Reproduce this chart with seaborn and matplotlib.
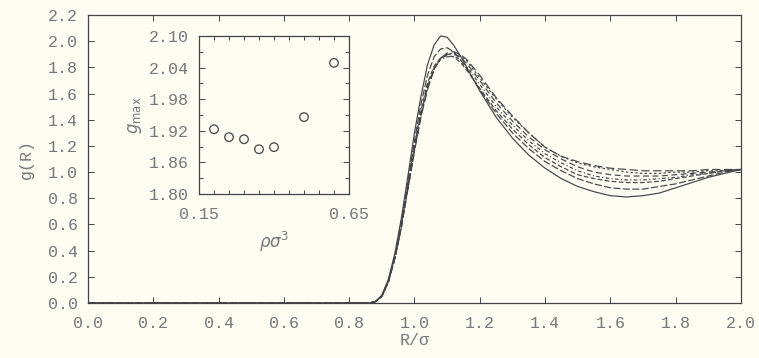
import numpy as np
import pandas as pd
import matplotlib
matplotlib.use("Agg")
import matplotlib.pyplot as plt
from matplotlib.ticker import MultipleLocator, FixedLocator
import seaborn as sns

# ---------------- data ----------------
r_grid = [0.00, 0.86, 0.88, 0.90, 0.92, 0.94, 0.96, 0.98, 1.00, 1.02, 1.04, 1.06,
          1.08, 1.10, 1.12, 1.14, 1.16, 1.20, 1.25, 1.30, 1.35, 1.40, 1.45, 1.50,
          1.55, 1.60, 1.65, 1.70, 1.75, 1.80, 1.85, 1.90, 1.95, 2.00]

g_060 = [0, 0, 0.01, 0.06, 0.18, 0.38, 0.65, 0.97, 1.30, 1.58, 1.82, 1.97, 2.04, 2.03,
         1.97, 1.89, 1.80, 1.62, 1.42, 1.26, 1.13, 1.03, 0.95, 0.89, 0.85, 0.82, 0.81,
         0.82, 0.84, 0.88, 0.92, 0.96, 0.99, 1.02]
g_050 = [0, 0, 0.01, 0.05, 0.17, 0.36, 0.62, 0.93, 1.24, 1.52, 1.74, 1.88, 1.94, 1.95,
         1.92, 1.86, 1.79, 1.63, 1.45, 1.30, 1.18, 1.08, 1.01, 0.95, 0.91, 0.88, 0.87,
         0.87, 0.89, 0.91, 0.94, 0.97, 1.00, 1.02]
g_040 = [0, 0, 0.01, 0.05, 0.16, 0.35, 0.60, 0.90, 1.20, 1.47, 1.68, 1.81, 1.87, 1.89,
         1.88, 1.84, 1.78, 1.64, 1.47, 1.33, 1.21, 1.11, 1.04, 0.98, 0.95, 0.93, 0.92,
         0.92, 0.93, 0.95, 0.97, 0.99, 1.01, 1.02]
g_035 = [0, 0, 0.01, 0.05, 0.16, 0.34, 0.59, 0.89, 1.18, 1.45, 1.66, 1.79, 1.86, 1.88,
         1.885, 1.86, 1.81, 1.67, 1.50, 1.36, 1.24, 1.14, 1.07, 1.01, 0.97, 0.95, 0.94,
         0.94, 0.95, 0.96, 0.98, 0.99, 1.01, 1.02]
g_030 = [0, 0, 0.01, 0.05, 0.16, 0.34, 0.58, 0.88, 1.17, 1.44, 1.65, 1.79, 1.87, 1.90,
         1.90, 1.88, 1.83, 1.70, 1.53, 1.39, 1.27, 1.17, 1.10, 1.04, 1.00, 0.98, 0.97,
         0.97, 0.97, 0.98, 0.99, 1.00, 1.01, 1.02]
g_025 = [0, 0, 0.01, 0.05, 0.16, 0.34, 0.58, 0.87, 1.16, 1.43, 1.64, 1.79, 1.87, 1.90,
         1.91, 1.89, 1.85, 1.72, 1.56, 1.42, 1.30, 1.19, 1.12, 1.07, 1.04, 1.02, 1.00,
         0.99, 0.99, 1.00, 1.00, 1.01, 1.01, 1.02]
g_020 = [0, 0, 0.01, 0.05, 0.16, 0.34, 0.58, 0.87, 1.16, 1.42, 1.63, 1.78, 1.87, 1.91,
         1.92, 1.90, 1.86, 1.74, 1.57, 1.43, 1.30, 1.19, 1.12, 1.08, 1.05, 1.03, 1.02,
         1.01, 1.01, 1.01, 1.01, 1.02, 1.02, 1.02]

densities = ["0.60", "0.50", "0.40", "0.35", "0.30", "0.25", "0.20"]
curves = [g_060, g_050, g_040, g_035, g_030, g_025, g_020]

rho = [0.20, 0.25, 0.30, 0.35, 0.40, 0.50, 0.60]
gmax = [1.923, 1.908, 1.904, 1.885, 1.889, 1.946, 2.049]

x_ticks = [0.0, 0.2, 0.4, 0.6, 0.8, 1.0, 1.2, 1.4, 1.6, 1.8, 2.0]
y_ticks = [0.0, 0.2, 0.4, 0.6, 0.8, 1.0, 1.2, 1.4, 1.6, 1.8, 2.0, 2.2]
inset_yticks = [1.80, 1.86, 1.92, 1.98, 2.04, 2.10]
inset_xticks = [0.15, 0.65]

# ---------------- build frames ----------------
df = pd.DataFrame({
    "r": np.concatenate([r_grid] * len(curves)),
    "g": np.concatenate(curves),
    "rho": np.repeat(densities, len(r_grid)),
})
dins = pd.DataFrame({"rho": rho, "gmax": gmax})

# ---------------- style ----------------
sns.set_style("ticks")
bg = "#fdfdf4"
ink = "#444444"
txt = "#777777"
plt.rcParams["font.family"] = ["Liberation Mono", "DejaVu Sans"]
plt.rcParams["mathtext.fontset"] = "dejavusans"
FS = 12

fig = plt.figure(figsize=(7.59, 3.58), dpi=100, facecolor=bg)
ax = fig.add_axes([0.1159, 0.1536, 0.8603, 0.8045], facecolor=bg)

dash_map = {
    "0.60": "",
    "0.50": (6, 2),
    "0.40": (4, 2),
    "0.35": (3, 2, 1, 2),
    "0.30": (5, 3),
    "0.25": (2, 2),
    "0.20": (7, 3),
}
sns.lineplot(data=df, x="r", y="g", style="rho", style_order=densities,
             dashes=dash_map, color=ink, lw=0.85, legend=False, ax=ax,
             estimator=None, sort=False)

ax.set_xlim(0.0, 2.0)
ax.set_ylim(0.0, 2.2)
ax.xaxis.set_major_locator(FixedLocator(x_ticks))
ax.yaxis.set_major_locator(FixedLocator(y_ticks))
ax.set_xticklabels([f"{v:.1f}" for v in x_ticks])
ax.set_yticklabels([f"{v:.1f}" for v in y_ticks])
ax.tick_params(direction="in", length=4, width=0.7, colors=ink, labelcolor=txt,
               labelsize=FS, top=True, right=True)
ax.tick_params(axis="x", pad=9)
ax.tick_params(axis="y", pad=7)
for s in ax.spines.values():
    s.set_color(ink)
    s.set_linewidth(0.9)
ax.set_xlabel("R/σ", color=txt, fontsize=FS, labelpad=2)
ax.set_ylabel("g(R)", color=txt, fontsize=FS, labelpad=10)

# ---------------- inset ----------------
axi = fig.add_axes([0.2622, 0.4581, 0.1976, 0.4413], facecolor=bg)
sns.scatterplot(data=dins, x="rho", y="gmax", marker="o", s=38,
                facecolors="none", edgecolor=ink, linewidth=0.9, ax=axi, legend=False)
axi.set_xlim(0.15, 0.65)
axi.set_ylim(1.80, 2.10)
axi.xaxis.set_major_locator(FixedLocator(inset_xticks))
axi.xaxis.set_minor_locator(MultipleLocator(0.05))
axi.yaxis.set_major_locator(FixedLocator(inset_yticks))
axi.yaxis.set_minor_locator(MultipleLocator(0.03))
axi.set_xticklabels([f"{v:.2f}" for v in inset_xticks])
axi.set_yticklabels([f"{v:.2f}" for v in inset_yticks])
axi.tick_params(which="both", direction="in", colors=ink, labelcolor=txt,
                labelsize=FS, top=True, right=True, width=0.7)
axi.tick_params(which="major", length=4)
axi.tick_params(which="minor", length=3)
axi.tick_params(axis="x", which="major", pad=9)
axi.tick_params(axis="y", which="major", pad=7)
for s in axi.spines.values():
    s.set_color(ink)
    s.set_linewidth(0.9)
axi.set_xlabel(r"$\rho\sigma^3$", color=txt, fontsize=12, labelpad=6)
axi.set_ylabel(r"$g_{\rm max}$", color=txt, fontsize=12, labelpad=4)

fig.savefig("out.png", dpi=100, facecolor=bg)
